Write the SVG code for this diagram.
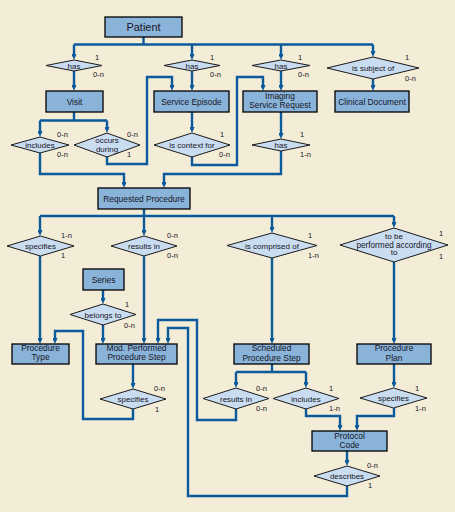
<svg xmlns="http://www.w3.org/2000/svg" width="455" height="512" viewBox="0 0 455 512">
<style>
.bg{fill:#F3ECD7}
.box rect{fill:#8AB3D9;stroke:#000;stroke-width:1.3}
.rel polygon{fill:#C9DCF0;stroke:#1a1a1a;stroke-width:1}
text{font-family:"Liberation Sans",Arial,sans-serif;fill:#161626}
.bt{font-size:8.4px;text-anchor:middle}
.rt{font-size:8px;text-anchor:middle}
.c{font-size:7.5px}
.conn path{fill:none;stroke:#0B5A9C;stroke-width:2.4;stroke-linejoin:miter}
</style>
<defs>
<marker id="ah" viewBox="0 0 6 5" refX="3" refY="2.5" markerWidth="6" markerHeight="5" markerUnits="userSpaceOnUse" orient="auto">
<path d="M0,0 L6,2.5 L0,5 z" fill="#0B5A9C"/>
</marker>
</defs>
<rect class="bg" x="0" y="0" width="455" height="512"/>

<g class="conn">
<path d="M143.5,37 V44.5"/>
<path d="M74,44.5 H373"/>
<path d="M74,44.5 V57" marker-end="url(#ah)"/>
<path d="M192,44.5 V57" marker-end="url(#ah)"/>
<path d="M281,44.5 V57" marker-end="url(#ah)"/>
<path d="M373,44.5 V54" marker-end="url(#ah)"/>
<path d="M74,71 V88" marker-end="url(#ah)"/>
<path d="M192,71 V88" marker-end="url(#ah)"/>
<path d="M281,71 V88" marker-end="url(#ah)"/>
<path d="M373,79 V88" marker-end="url(#ah)"/>
<path d="M74,112 V120.5"/>
<path d="M40,120.5 H107"/>
<path d="M40,120.5 V134" marker-end="url(#ah)"/>
<path d="M107,120.5 V130" marker-end="url(#ah)"/>
<path d="M40,153 V174 H124 V185" marker-end="url(#ah)"/>
<path d="M107,157 V164 H147 V77 H172 V88" marker-end="url(#ah)"/>
<path d="M192,112 V130" marker-end="url(#ah)"/>
<path d="M192,157 V165 H237 V77 H263 V88" marker-end="url(#ah)"/>
<path d="M281,112 V136" marker-end="url(#ah)"/>
<path d="M281,151 V174 H164 V185" marker-end="url(#ah)"/>
<path d="M144,209 V216"/>
<path d="M40,216 H394"/>
<path d="M40,216 V233" marker-end="url(#ah)"/>
<path d="M144,216 V233" marker-end="url(#ah)"/>
<path d="M272,216 V230" marker-end="url(#ah)"/>
<path d="M394,216 V225" marker-end="url(#ah)"/>
<path d="M40,256 V341" marker-end="url(#ah)"/>
<path d="M144,256 V341" marker-end="url(#ah)"/>
<path d="M272,258 V341" marker-end="url(#ah)"/>
<path d="M394,262 V341" marker-end="url(#ah)"/>
<path d="M103,290 V301" marker-end="url(#ah)"/>
<path d="M103,325 V341" marker-end="url(#ah)"/>
<path d="M133,364 V386" marker-end="url(#ah)"/>
<path d="M133,409 V419 H83 V331 H55 V341" marker-end="url(#ah)"/>
<path d="M236,409 V420 H197 V320 H158 V341" marker-end="url(#ah)"/>
<path d="M347,486 V496 H188 V328 H168 V341" marker-end="url(#ah)"/>
<path d="M272,364 V372"/>
<path d="M236,372 H306"/>
<path d="M236,372 V385" marker-end="url(#ah)"/>
<path d="M306,372 V385" marker-end="url(#ah)"/>
<path d="M306,409 V416 H340 V428" marker-end="url(#ah)"/>
<path d="M394,364 V385" marker-end="url(#ah)"/>
<path d="M394,408 V416 H357 V428" marker-end="url(#ah)"/>
<path d="M347,451 V463" marker-end="url(#ah)"/>
</g>

<g id="patient" class="box"><rect x="105" y="17" width="77" height="20"/><text class="bt" x="143.5" y="31" style="font-size:11px">Patient</text></g>
<g id="visit" class="box"><rect x="46" y="91" width="57" height="21"/><text class="bt" x="74.5" y="104.5">Visit</text></g>
<g id="service-episode" class="box"><rect x="154" y="91" width="75" height="21"/><text class="bt" x="191.5" y="104.5">Service Episode</text></g>
<g id="imaging-service-request" class="box"><rect x="243" y="91" width="74" height="21"/><text class="bt" x="280" y="98.5">Imaging</text><text class="bt" x="280" y="108">Service Request</text></g>
<g id="clinical-document" class="box"><rect x="335" y="91" width="74" height="21"/><text class="bt" x="372" y="104.5">Clinical Document</text></g>
<g id="requested-procedure" class="box"><rect x="98" y="188" width="92" height="21"/><text class="bt" x="144" y="201.5">Requested Procedure</text></g>
<g id="series" class="box"><rect x="83" y="269" width="41" height="21"/><text class="bt" x="103.5" y="282.5">Series</text></g>
<g id="procedure-type" class="box"><rect x="12" y="344" width="57" height="20"/><text class="bt" x="40.5" y="350.5">Procedure</text><text class="bt" x="40.5" y="359.5">Type</text></g>
<g id="mpps" class="box"><rect x="96" y="344" width="81" height="20"/><text class="bt" x="136.5" y="350.5">Mod. Performed</text><text class="bt" x="136.5" y="359.5">Procedure Step</text></g>
<g id="sps" class="box"><rect x="234" y="344" width="75" height="20"/><text class="bt" x="271.5" y="351">Scheduled</text><text class="bt" x="271.5" y="360.5">Procedure Step</text></g>
<g id="procedure-plan" class="box"><rect x="357" y="344" width="74" height="20"/><text class="bt" x="394" y="351">Procedure</text><text class="bt" x="394" y="360.5">Plan</text></g>
<g id="protocol-code" class="box"><rect x="312" y="431" width="75" height="20"/><text class="bt" x="349.5" y="438.5">Protocol</text><text class="bt" x="349.5" y="448">Code</text></g>

<g id="rel-has-visit" class="rel"><polygon points="46,65.5 74,60 102,65.5 74,71"/><text class="rt" x="74" y="68.5">has</text><text class="c" x="95" y="60">1</text><text class="c" x="93" y="77">0-n</text></g>
<g id="rel-has-episode" class="rel"><polygon points="164,65.5 192,60 220,65.5 192,71"/><text class="rt" x="192" y="68.5">has</text><text class="c" x="210" y="60">1</text><text class="c" x="210" y="77">0-n</text></g>
<g id="rel-has-isr" class="rel"><polygon points="252,65.5 281,60 310,65.5 281,71"/><text class="rt" x="281" y="68.5">has</text><text class="c" x="298" y="60">1</text><text class="c" x="298" y="77">0-n</text></g>
<g id="rel-subject-of" class="rel"><polygon points="327,68 373,57 419,68 373,79"/><text class="rt" x="373" y="71">is subject of</text><text class="c" x="405" y="60">1</text><text class="c" x="405" y="81">0-n</text></g>
<g id="rel-includes-visit" class="rel"><polygon points="11,145 40,137 69,145 40,153"/><text class="rt" x="40" y="148">includes</text><text class="c" x="57" y="137">0-n</text><text class="c" x="57" y="157">0-n</text></g>
<g id="rel-occurs-during" class="rel"><polygon points="74,145 107,133 140,145 107,157"/><text class="rt" x="107" y="142.5">occurs</text><text class="rt" x="107" y="151.5">during</text><text class="c" x="127" y="137">0-n</text><text class="c" x="127" y="157">1</text></g>
<g id="rel-context-for" class="rel"><polygon points="154,145 192,133 230,145 192,157"/><text class="rt" x="192" y="148">is context for</text><text class="c" x="220" y="137">1</text><text class="c" x="219" y="157">0-n</text></g>
<g id="rel-has-rp" class="rel"><polygon points="252,145 281,139 310,145 281,151"/><text class="rt" x="281" y="148">has</text><text class="c" x="300" y="137">1</text><text class="c" x="300" y="157">1-n</text></g>
<g id="rel-specifies-pt" class="rel"><polygon points="7,246 40.5,236 74,246 40.5,256"/><text class="rt" x="40.5" y="249">specifies</text><text class="c" x="61" y="238">1-n</text><text class="c" x="61" y="258">1</text></g>
<g id="rel-results-in-mpps" class="rel"><polygon points="111,246 144,236 177,246 144,256"/><text class="rt" x="144" y="249">results in</text><text class="c" x="167" y="238">0-n</text><text class="c" x="167" y="258">0-n</text></g>
<g id="rel-comprised-of" class="rel"><polygon points="227,245.5 272,233 317,245.5 272,258"/><text class="rt" x="272" y="248.5">is comprised of</text><text class="c" x="308" y="238">1</text><text class="c" x="308" y="258">1-n</text></g>
<g id="rel-performed-according" class="rel"><polygon points="340,245 394,228 448,245 394,262"/><text class="rt" x="394" y="239">to be</text><text class="rt" x="394" y="247.5" style="font-size:8.2px">performed according</text><text class="rt" x="394" y="255">to</text><text class="c" x="439" y="236">1</text><text class="c" x="439" y="259">1</text></g>
<g id="rel-belongs-to" class="rel"><polygon points="70,314.5 103,304 136,314.5 103,325"/><text class="rt" x="103" y="317.5">belongs to</text><text class="c" x="125" y="307">1</text><text class="c" x="124" y="328">0-n</text></g>
<g id="rel-specifies-mpps" class="rel"><polygon points="100,399 133,389 166,399 133,409"/><text class="rt" x="133" y="402">specifies</text><text class="c" x="154" y="391">0-n</text><text class="c" x="155" y="412">1</text></g>
<g id="rel-results-in-sps" class="rel"><polygon points="203,398.5 236,388 269,398.5 236,409"/><text class="rt" x="236" y="401.5">results in</text><text class="c" x="256" y="391">0-n</text><text class="c" x="256" y="411">0-n</text></g>
<g id="rel-includes-sps" class="rel"><polygon points="273,398.5 306,388 339,398.5 306,409"/><text class="rt" x="306" y="401.5">includes</text><text class="c" x="329" y="391">1</text><text class="c" x="329" y="411">1-n</text></g>
<g id="rel-specifies-pp" class="rel"><polygon points="360,398 393.5,388 427,398 393.5,408"/><text class="rt" x="393.5" y="401">specifies</text><text class="c" x="415" y="391">1</text><text class="c" x="415" y="411">1-n</text></g>
<g id="rel-describes" class="rel"><polygon points="314,476 347,466 380,476 347,486"/><text class="rt" x="347" y="479">describes</text><text class="c" x="367" y="468">0-n</text><text class="c" x="368" y="488">1</text></g>
</svg>
